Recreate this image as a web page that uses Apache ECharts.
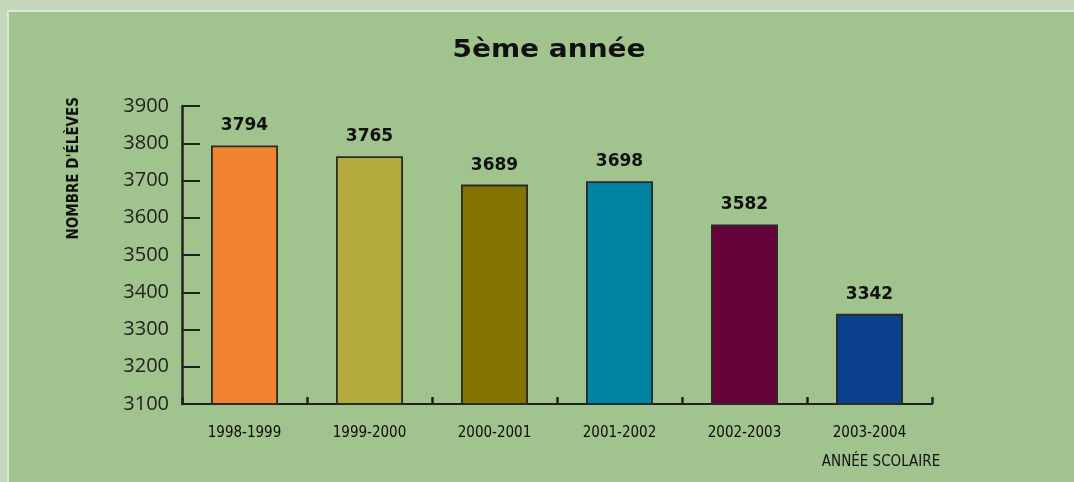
<!DOCTYPE html>
<html>
<head>
<meta charset="utf-8">
<script src="https://cdn.jsdelivr.net/npm/echarts@6/dist/echarts.min.js"></script>
<style>
  html, body { margin: 0; padding: 0; background: #c5d8bb; }
  #chart { width: 1074px; height: 482px; }
</style>
</head>
<body>
<div id="chart"></div>
<script>
const years = ['1998-1999', '1999-2000', '2000-2001', '2001-2002', '2002-2003', '2003-2004']
const eleves = [3794, 3765, 3689, 3698, 3582, 3342]
const barColors = ['#f28331', '#b3ac3d', '#837300', '#0084a3', '#67033b', '#0a408c']

const condensed = '"Liberation Sans Narrow", "DejaVu Sans Condensed", sans-serif'

const chart = echarts.init(document.getElementById('chart'))

chart.setOption({
  backgroundColor: '#c5d8bb',
  animation: false,
  graphic: [{
    type: 'rect',
    z: -10,
    shape: { x: 8, y: 11, width: 1100, height: 500 },
    style: { fill: '#a1c48e', stroke: '#e8f0e2', lineWidth: 1.5 }
  }, {
    // title drawn as text so it can be stretched like the original's wide face
    type: 'text',
    x: 549,
    y: 50,
    scaleX: 1.12,
    style: {
      text: '5ème année',
      fontFamily: '"DejaVu Sans", sans-serif',
      fontWeight: 'bold',
      fontSize: 25,
      fill: '#111',
      align: 'center',
      verticalAlign: 'middle'
    }
  }],
  grid: { left: 182, right: 142, top: 106, bottom: 78 },
  xAxis: {
    type: 'category',
    data: years,
    name: 'ANNÉE SCOLAIRE',
    nameLocation: 'end',
    nameGap: 0,
    nameTextStyle: {
      fontFamily: condensed,
      fontSize: 15,
      color: '#111',
      align: 'center',
      verticalAlign: 'top',
      padding: [51, 0, 0, -102]
    },
    axisLine: { lineStyle: { color: '#222', width: 2 } },
    axisTick: { show: true, inside: true, length: 7, lineStyle: { color: '#222', width: 2.5 } },
    axisLabel: {
      margin: 22,
      fontFamily: condensed,
      fontSize: 15,
      color: '#0a0a0a'
    }
  },
  yAxis: {
    type: 'value',
    min: 3100,
    max: 3900,
    interval: 100,
    name: "NOMBRE D'ÉLÈVES",
    nameLocation: 'end',
    nameRotate: 90,
    nameGap: 9,
    nameTextStyle: {
      fontFamily: condensed,
      fontSize: 15,
      fontWeight: 'bold',
      color: '#111',
      align: 'right',
      verticalAlign: 'bottom',
      padding: [0, 0, 100, 0]
    },
    splitLine: { show: false },
    axisLine: { show: true, lineStyle: { color: '#222', width: 2.5 } },
    axisTick: { show: true, inside: true, length: 18, lineStyle: { color: '#222', width: 2 } },
    axisLabel: {
      margin: 13,
      formatter: v => String(v),
      fontFamily: '"Open Sans", "Liberation Sans", sans-serif',
      fontSize: 20,
      color: '#222'
    }
  },
  series: [{
    type: 'bar',
    barWidth: 67,
    data: eleves.map((v, i) => ({ value: v, itemStyle: { color: barColors[i] } })),
    itemStyle: { borderColor: '#2a2a2a', borderWidth: 1.8 },
    label: {
      show: true,
      position: 'top',
      distance: 11,
      fontFamily: '"DejaVu Sans", sans-serif',
      fontWeight: 'bold',
      fontSize: 17,
      color: '#111'
    }
  }]
})
</script>
</body>
</html>
